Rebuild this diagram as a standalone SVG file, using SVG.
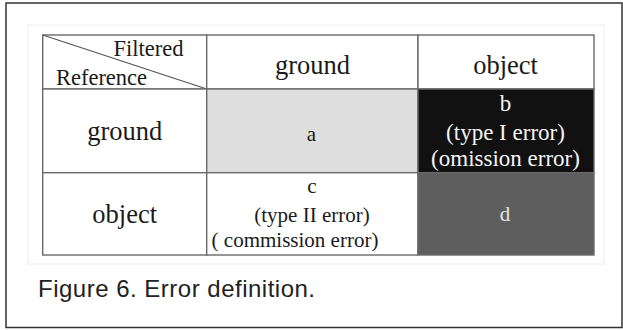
<svg xmlns="http://www.w3.org/2000/svg" width="623" height="330" viewBox="0 0 623 330">
  <style>
    .cell { stroke: #6a6a6a; stroke-width: 1.4; }
    .lbl { font-family: "Liberation Serif", "Times New Roman", serif; text-anchor: middle; fill: #1a1a1a; }
    .big { font-size: 26.5px; }
    .mid { font-size: 21px; }
    .midb { font-size: 23px; }
    .corner { font-size: 22.5px; }
    .light { fill: #f4f4f4; }
    .cap { font-family: "Liberation Sans", Arial, sans-serif; font-size: 24px; fill: #222; }
  </style>
  <rect x="0" y="0" width="623" height="330" fill="#ffffff"/>
  <!-- outer frame -->
  <rect x="6" y="3" width="616" height="324.5" fill="none" stroke="#333" stroke-width="1.5"/>
  <!-- faint halo around the table -->
  <rect x="28" y="25" width="576" height="239" fill="none" stroke="#f6f6f6" stroke-width="2"/>

  <g id="corner">
    <rect class="cell" x="42.7" y="35" width="164" height="54" fill="#fff"/>
    <line x1="42.7" y1="35" x2="206.7" y2="89" stroke="#555" stroke-width="1.2"/>
    <text class="lbl corner" x="148.5" y="56">Filtered</text>
    <text class="lbl corner" x="101.5" y="84.5">Reference</text>
  </g>
  <g id="head-ground">
    <rect class="cell" x="206.7" y="35" width="211.3" height="54" fill="#fff"/>
    <text class="lbl big" x="312.5" y="73.5">ground</text>
  </g>
  <g id="head-object">
    <rect class="cell" x="418" y="35" width="176" height="54" fill="#fff"/>
    <text class="lbl big" x="505.5" y="73.5">object</text>
  </g>

  <g id="row-ground">
    <rect class="cell" x="42.7" y="89" width="164" height="83.7" fill="#fff"/>
    <text class="lbl big" x="124.7" y="139.5">ground</text>
  </g>
  <g id="cell-a">
    <rect class="cell" x="206.7" y="89" width="211.3" height="83.7" fill="#dedede"/>
    <text class="lbl mid" x="311.5" y="140.5">a</text>
  </g>
  <g id="cell-b">
    <rect class="cell" x="418" y="89" width="176" height="83.7" fill="#111"/>
    <text class="lbl midb light" x="505.5" y="111">b</text>
    <text class="lbl midb light" x="505.5" y="140">(type I error)</text>
    <text class="lbl midb light" x="505.5" y="165.5">(omission error)</text>
  </g>

  <g id="row-object">
    <rect class="cell" x="42.7" y="172.7" width="164" height="82.3" fill="#fff"/>
    <text class="lbl big" x="124.7" y="223">object</text>
  </g>
  <g id="cell-c">
    <rect class="cell" x="206.7" y="172.7" width="211.3" height="82.3" fill="#fff"/>
    <text class="lbl mid" x="312" y="193">c</text>
    <text class="lbl mid" x="312" y="221.5">(type II error)</text>
    <text class="lbl mid" x="295" y="246.5">( commission error)</text>
  </g>
  <g id="cell-d">
    <rect class="cell" x="418" y="172.7" width="176" height="82.3" fill="#5e5e5e"/>
    <text class="lbl mid" x="505" y="221" style="fill:#e6e6e6">d</text>
  </g>

  <text class="cap" x="38" y="297" textLength="277" lengthAdjust="spacing">Figure 6. Error definition.</text>
</svg>
